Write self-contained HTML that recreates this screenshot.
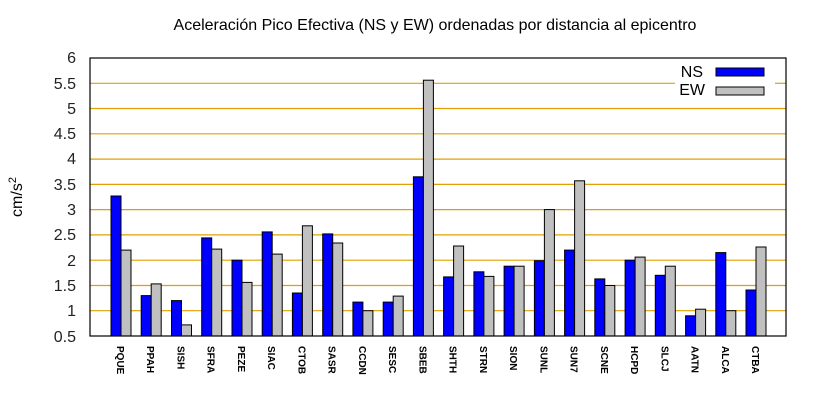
<!DOCTYPE html>
<html><head><meta charset="utf-8"><style>body{margin:0;background:#fff}svg{display:block}text{font-family:"Liberation Sans","DejaVu Sans",sans-serif}</style></head><body>
<svg width="820" height="400" xmlns="http://www.w3.org/2000/svg">
<rect width="820" height="400" fill="#fff"/>
<text x="435" y="30" font-size="16" text-anchor="middle">Aceleración Pico Efectiva (NS y EW) ordenadas por distancia al epicentro</text>
<g stroke="#e0a000" stroke-width="1.2">
<line x1="90" x2="786" y1="310.7" y2="310.7"/><line x1="90" x2="786" y1="285.5" y2="285.5"/>
<line x1="90" x2="786" y1="260.2" y2="260.2"/><line x1="90" x2="786" y1="234.9" y2="234.9"/>
<line x1="90" x2="786" y1="209.6" y2="209.6"/><line x1="90" x2="786" y1="184.4" y2="184.4"/>
<line x1="90" x2="786" y1="159.1" y2="159.1"/><line x1="90" x2="786" y1="133.8" y2="133.8"/>
<line x1="90" x2="786" y1="108.5" y2="108.5"/><line x1="90" x2="675" y1="83.3" y2="83.3"/><line x1="775" x2="786" y1="83.3" y2="83.3"/>
</g>
<g font-size="16" text-anchor="end" fill="#222">
<text x="76" y="342">0.5</text><text x="76" y="316">1</text><text x="76" y="291">1.5</text><text x="76" y="266">2</text><text x="76" y="240">2.5</text><text x="76" y="215">3</text><text x="76" y="190">3.5</text><text x="76" y="164">4</text><text x="76" y="139">4.5</text><text x="76" y="114">5</text><text x="76" y="89">5.5</text><text x="76" y="63">6</text>
</g>
<text transform="translate(22,197) rotate(-90)" font-size="16" text-anchor="middle">cm/s<tspan font-size="11" dy="-6">2</tspan></text>
<g stroke="#000" stroke-width="1">
<g fill="#0000ff">
<rect x="111" y="196" width="10" height="140"/><rect x="141.2" y="295.6" width="10" height="40.4"/><rect x="171.5" y="300.6" width="10" height="35.4"/><rect x="201.7" y="237.9" width="10" height="98.1"/><rect x="232" y="260.2" width="10" height="75.8"/><rect x="262.2" y="231.9" width="10" height="104.1"/><rect x="292.4" y="293" width="10" height="43"/><rect x="322.7" y="233.9" width="10" height="102.1"/><rect x="352.9" y="302.1" width="10" height="33.9"/><rect x="383.2" y="302.1" width="10" height="33.9"/><rect x="413.4" y="176.8" width="10" height="159.2"/><rect x="443.6" y="276.9" width="10" height="59.1"/><rect x="473.9" y="271.8" width="10" height="64.2"/><rect x="504.1" y="266.2" width="10" height="69.8"/><rect x="534.4" y="260.7" width="10" height="75.3"/><rect x="564.6" y="250.1" width="10" height="85.9"/><rect x="594.8" y="278.9" width="10" height="57.1"/><rect x="625.1" y="260.2" width="10" height="75.8"/><rect x="655.3" y="275.3" width="10" height="60.7"/><rect x="685.6" y="315.8" width="10" height="20.2"/><rect x="715.8" y="252.6" width="10" height="83.4"/><rect x="746" y="290" width="10" height="46"/>
</g>
<g fill="#c0c0c0">
<rect x="121" y="250.1" width="10" height="85.9"/><rect x="151.2" y="283.9" width="10" height="52.1"/><rect x="181.5" y="324.9" width="10" height="11.1"/><rect x="211.7" y="249.1" width="10" height="86.9"/><rect x="242" y="282.4" width="10" height="53.6"/><rect x="272.2" y="254.1" width="10" height="81.9"/><rect x="302.4" y="225.8" width="10" height="110.2"/><rect x="332.7" y="243" width="10" height="93"/><rect x="362.9" y="310.7" width="10" height="25.3"/><rect x="393.2" y="296.1" width="10" height="39.9"/><rect x="423.4" y="80.2" width="10" height="255.8"/><rect x="453.6" y="246" width="10" height="90"/><rect x="483.9" y="276.4" width="10" height="59.6"/><rect x="514.1" y="266.2" width="10" height="69.8"/><rect x="544.4" y="209.6" width="10" height="126.4"/><rect x="574.6" y="180.8" width="10" height="155.2"/><rect x="604.8" y="285.5" width="10" height="50.5"/><rect x="635.1" y="257.1" width="10" height="78.9"/><rect x="665.3" y="266.2" width="10" height="69.8"/><rect x="695.6" y="309.2" width="10" height="26.8"/><rect x="725.8" y="310.7" width="10" height="25.3"/><rect x="756" y="247" width="10" height="89"/>
</g>
<rect x="716" y="68" width="48" height="8" fill="#0000ff"/>
<rect x="716" y="87" width="48" height="8" fill="#c0c0c0"/>
</g>
<rect x="90" y="58" width="696" height="278" fill="none" stroke="#000" stroke-width="1.2"/>
<text x="703" y="77" font-size="16" text-anchor="end">NS</text>
<text x="705" y="95" font-size="16" text-anchor="end">EW</text>
<g font-size="10" fill="#000" font-weight="bold">
<text transform="translate(117,346) rotate(90)">PQUE</text>
<text transform="translate(147.2,346) rotate(90)">PPAH</text>
<text transform="translate(177.5,346) rotate(90)">SISH</text>
<text transform="translate(207.7,346) rotate(90)">SFRA</text>
<text transform="translate(238,346) rotate(90)">PEZE</text>
<text transform="translate(268.2,346) rotate(90)">SIAC</text>
<text transform="translate(298.4,346) rotate(90)">CTOB</text>
<text transform="translate(328.7,346) rotate(90)">SASR</text>
<text transform="translate(358.9,346) rotate(90)">CCDN</text>
<text transform="translate(389.2,346) rotate(90)">SESC</text>
<text transform="translate(419.4,346) rotate(90)">SBEB</text>
<text transform="translate(449.6,346) rotate(90)">SHTH</text>
<text transform="translate(479.9,346) rotate(90)">STRN</text>
<text transform="translate(510.1,346) rotate(90)">SION</text>
<text transform="translate(540.4,346) rotate(90)">SUNL</text>
<text transform="translate(570.6,346) rotate(90)">SUN7</text>
<text transform="translate(600.8,346) rotate(90)">SCNE</text>
<text transform="translate(631.1,346) rotate(90)">HCPD</text>
<text transform="translate(661.3,346) rotate(90)">SLCJ</text>
<text transform="translate(691.6,346) rotate(90)">AATN</text>
<text transform="translate(721.8,346) rotate(90)">ALCA</text>
<text transform="translate(752,346) rotate(90)">CTBA</text>
</g>
</svg>
</body></html>
